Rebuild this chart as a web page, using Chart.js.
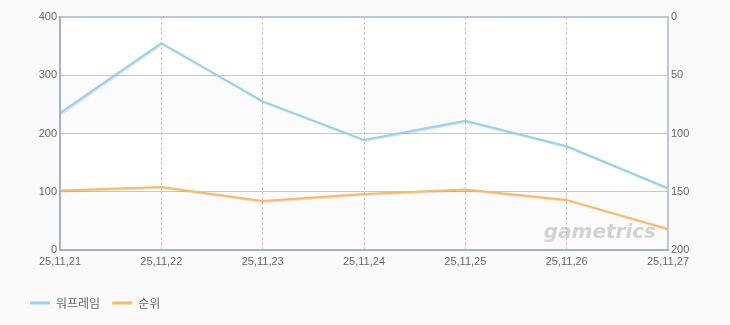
<!DOCTYPE html>
<html>
<head>
<meta charset="utf-8">
<script src="https://cdn.jsdelivr.net/npm/chart.js@4.4.1/dist/chart.umd.min.js"></script>
<style>
  html, body { margin: 0; padding: 0; background: #fafafa; }
  #wrap { width: 730px; height: 325px; }
</style>
</head>
<body>
<div id="wrap"><canvas id="chart" width="730" height="325"></canvas></div>
<script>
// 데이터
const dates = ['25,11,21', '25,11,22', '25,11,23', '25,11,24', '25,11,25', '25,11,26', '25,11,27'];
const players = [235, 355, 255, 189, 222, 178, 106];
const ranks = [149, 146, 158, 152, 148, 157, 182];

const tickFont = { family: "'Liberation Sans', Arial, sans-serif", size: 11 };

// 배경 띠 + 테두리 + 워터마크
const plotDeco = {
    id: 'plotDeco',
    beforeDraw(chart) {
        const { ctx, chartArea: a, scales } = chart;
        ctx.save();
        ctx.fillStyle = '#ffffff';
        ctx.fillRect(a.left, a.top, a.right - a.left, a.bottom - a.top);
        ctx.fillStyle = '#fbfbfb';
        [[0, 100], [200, 300]].forEach(([lo, hi]) => {
            const y1 = scales.y.getPixelForValue(hi);
            const y2 = scales.y.getPixelForValue(lo);
            ctx.fillRect(a.left, y1, a.right - a.left, y2 - y1);
        });
        ctx.restore();
    },
    beforeDatasetDraw(chart) {
        const ctx = chart.ctx;
        ctx.save();
        ctx.shadowColor = 'rgba(0,0,0,0.12)';
        ctx.shadowOffsetX = 1;
        ctx.shadowOffsetY = 1;
        ctx.shadowBlur = 1;
    },
    afterDatasetDraw(chart) {
        chart.ctx.restore();
    },
    afterDatasetsDraw(chart) {
        const { ctx, chartArea: a } = chart;
        ctx.save();
        // 워터마크
        ctx.font = "italic bold 20px 'DejaVu Sans', sans-serif";
        ctx.fillStyle = 'rgba(160,160,160,0.45)';
        ctx.textAlign = 'right';
        ctx.textBaseline = 'alphabetic';
        ctx.fillText('gametrics', a.right - 12, a.bottom - 12);
        // 테두리
        ctx.lineWidth = 2;
        ctx.strokeStyle = '#b9c8d8';
        ctx.beginPath();
        ctx.moveTo(a.left, a.top);
        ctx.lineTo(a.right, a.top);
        ctx.lineTo(a.right, a.bottom);
        ctx.stroke();
        ctx.strokeStyle = '#a3b3c6';
        ctx.beginPath();
        ctx.moveTo(a.left, a.top - 1);
        ctx.lineTo(a.left, a.bottom);
        ctx.lineTo(a.right + 1, a.bottom);
        ctx.stroke();
        ctx.restore();
    }
};

new Chart(document.getElementById('chart'), {
    type: 'line',
    data: {
        labels: dates,
        datasets: [{
            label: '워프레임',
            data: players,
            borderColor: '#92d2f2',
            backgroundColor: '#92d2f2',
            borderWidth: 2,
            pointRadius: 0,
            tension: 0,
            yAxisID: 'y'
        }, {
            label: '순위',
            data: ranks,
            borderColor: '#fbbb5c',
            backgroundColor: '#fbbb5c',
            borderWidth: 2,
            pointRadius: 0,
            tension: 0,
            yAxisID: 'y1'
        }]
    },
    options: {
        responsive: false,
        animation: false,
        layout: { padding: { left: 18, right: 22, top: 17, bottom: 6 } },
        scales: {
            x: {
                offset: false,
                grid: { color: '#c8c8c8', drawTicks: false, tickLength: 0 },
                border: { display: false, dash: [3, 2] },
                ticks: { color: '#666', font: tickFont, padding: 5, maxRotation: 0, autoSkip: false },
                afterFit: (s) => { s.height = 35; }
            },
            y: {
                position: 'left',
                min: 0,
                max: 400,
                ticks: { stepSize: 100, color: '#666', font: tickFont, padding: 3 },
                grid: { color: '#c8c8c8', drawTicks: false, tickLength: 0 },
                border: { display: false },
                afterFit: (s) => { s.width = 42; }
            },
            y1: {
                position: 'right',
                reverse: true,
                min: 0,
                max: 200,
                ticks: { stepSize: 50, color: '#666', font: tickFont, padding: 3 },
                grid: { drawOnChartArea: false, drawTicks: false, tickLength: 0 },
                border: { display: false },
                afterFit: (s) => { s.width = 40; }
            }
        },
        plugins: {
            legend: {
                position: 'bottom',
                align: 'start',
                labels: {
                    boxWidth: 20,
                    boxHeight: 3,
                    padding: 12,
                    color: '#666',
                    font: { family: "'Noto Sans CJK KR', sans-serif", size: 12 },
                    generateLabels: (chart) => chart.data.datasets.map((d, i) => ({
                        text: d.label,
                        fillStyle: d.borderColor,
                        strokeStyle: d.borderColor,
                        lineWidth: 0,
                        fontColor: '#666',
                        datasetIndex: i
                    }))
                }
            },
            tooltip: { enabled: false }
        }
    },
    plugins: [plotDeco]
});
</script>
</body>
</html>
